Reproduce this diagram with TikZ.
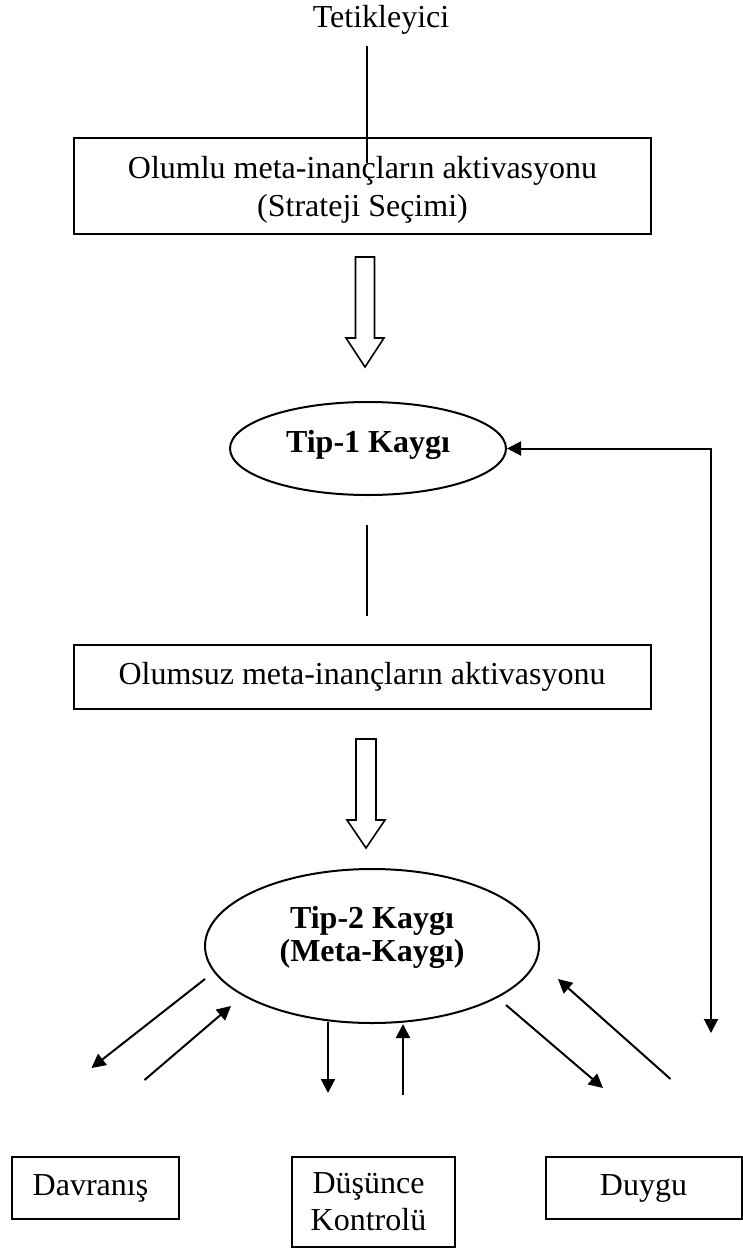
\documentclass[tikz,border=0pt]{standalone}
\usepackage{fontspec}
\setmainfont{Liberation Serif}
\usetikzlibrary{shapes.geometric,arrows.meta}
\begin{document}
\begin{tikzpicture}[x=1pt,y=-1pt, line width=2pt,
  every node/.style={font=\fontsize{32}{38}\selectfont},
  box/.style={draw, rectangle, inner sep=0pt, align=center},
  oval/.style={draw, ellipse, inner sep=0pt, align=center, font=\fontsize{32}{33}\selectfont\bfseries},
  boldtext/.style={inner sep=0pt, align=center, font=\fontsize{32}{33}\selectfont\bfseries},
  conn/.style={-{Triangle[length=14pt,width=14pt]}},
  hollow/.style={draw, line width=1.6pt, fill=white, line join=miter}]
\useasboundingbox (0,0) rectangle (743,1249);
\fill[white] (0,0) rectangle (743,1249);

% nodes
\node (trig) at (381,19.5) {Tetikleyici};
\node[box, minimum width=577pt, minimum height=96pt, text depth=0pt] (b1) at (362.5,186) {Olumlu meta-inançların aktivasyonu\\(Strateji Seçimi)};
\node[oval, minimum width=276pt, minimum height=93pt] (k1) at (368,448.5) {};
\node[boldtext] (k1t) at (368,445) {Tip-1 Kaygı};
\node[box, minimum width=577pt, minimum height=64pt] (b2) at (362,677) {Olumsuz meta-inançların aktivasyonu};
\node[oval, minimum width=334pt, minimum height=154pt] (k2) at (372,946) {};
\node[boldtext] (k2t) at (372,937) {Tip-2 Kaygı\\(Meta-Kaygı)};
\node[box, minimum width=167pt, minimum height=62pt] (dav) at (95.5,1188) {Davranış\hspace*{10pt}};
\node[box, minimum width=163pt, minimum height=90pt, font=\fontsize{32}{37}\selectfont] (dus) at (373.5,1202) {Düşünce\hspace*{10pt}\\Kontrolü\hspace*{10pt}};
\node[box, minimum width=196pt, minimum height=62pt] (duy) at (643.5,1188) {Duygu};

% trigger line
\coordinate (t1) at (367,46);
\coordinate (t2) at (367,163);
\draw (t1) -- (t2);

% hollow arrow 1
\draw[hollow] (355.5,257) -- (374.5,257) -- (374.5,338) -- (384,338) -- (365,367) -- (346,338) -- (355.5,338) -- cycle;

% line between Tip-1 and box 2
\coordinate (m1) at (367,525);
\coordinate (m2) at (367,616);
\draw (m1) -- (m2);

% hollow arrow 2
\draw[hollow] (356,739) -- (376,739) -- (376,820) -- (385,820) -- (366,848) -- (347,820) -- (356,820) -- cycle;

% feedback
\coordinate (fb) at (711,1033);
\draw[{Triangle[length=14pt,width=14pt]}-{Triangle[length=14pt,width=14pt]}] (fb) |- (k1.east);

% diagonal / vertical arrows
\coordinate (a1) at (205,979);   \coordinate (a2) at (91.5,1068);
\coordinate (b1s) at (144.5,1080); \coordinate (b1e) at (231,1006);
\coordinate (c1) at (328,1022);  \coordinate (c2) at (328,1093);
\coordinate (d1) at (403,1095);  \coordinate (d2) at (403,1024);
\coordinate (e1) at (506,1005);  \coordinate (e2) at (603,1088);
\coordinate (f1) at (670.5,1079); \coordinate (f2) at (558,979);
\draw[conn] (a1) -- (a2);
\draw[conn] (b1s) -- (b1e);
\draw[conn] (c1) -- (c2);
\draw[conn] (d1) -- (d2);
\draw[conn] (e1) -- (e2);
\draw[conn] (f1) -- (f2);
\end{tikzpicture}
\end{document}
